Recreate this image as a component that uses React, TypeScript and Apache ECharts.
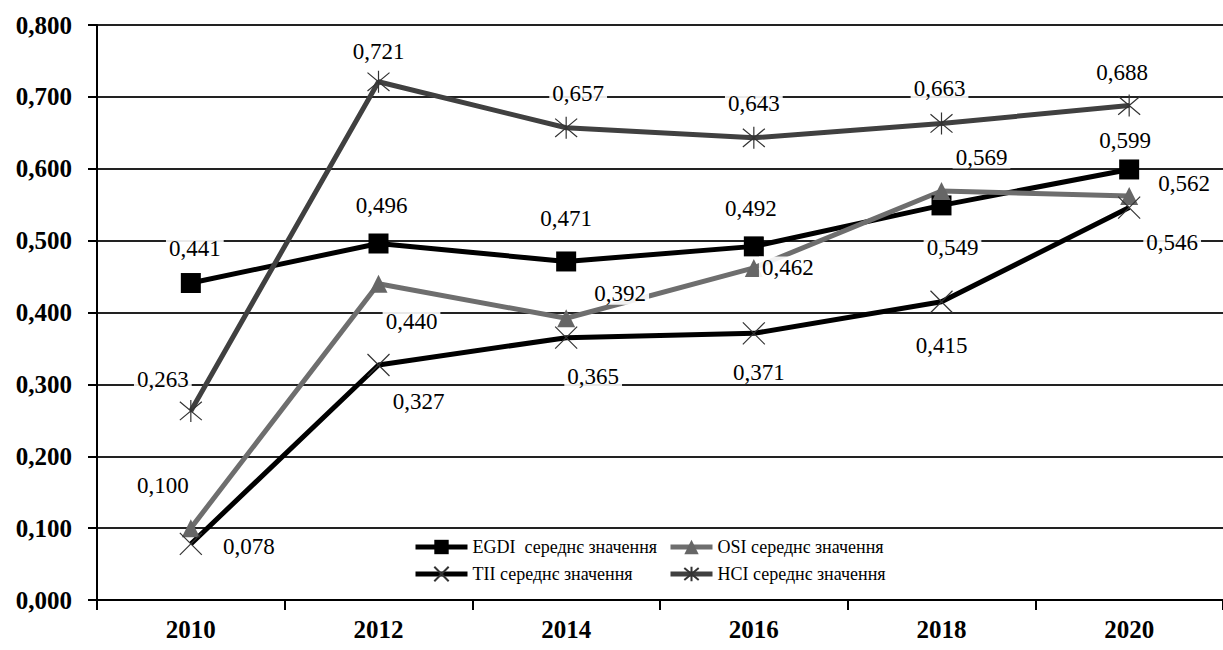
import React, { useEffect, useRef } from "react";
import * as echarts from "echarts";

const years = ["2010", "2012", "2014", "2016", "2018", "2020"];
const egdi = [0.441, 0.496, 0.471, 0.492, 0.549, 0.599];
const osi = [0.1, 0.44, 0.392, 0.462, 0.569, 0.562];
const tii = [0.078, 0.327, 0.365, 0.371, 0.415, 0.546];
const hci = [0.263, 0.721, 0.657, 0.643, 0.663, 0.688];
const seriesNames = [
  "EGDI  середнє значення",
  "OSI середнє значення",
  "TII середнє значення",
  "HCI середнє значення",
];

// label offsets (px) for each point
const egdiOff = [[4, -35], [3, -38], [0, -43], [-3, -38], [11, 42], [-4, -29]];
const osiOff = [[-28, -43], [33, 38], [54, -25], [34, 0], [40, -34], [55, -13]];
const tiiOff = [[58, 3], [40, 37], [27, 39], [5, 39], [0, 44], [43, 35]];
const hciOff = [[-28, -31], [0, -30], [12, -34], [0, -34], [-2, -35], [-7, -33]];

const FONT = "Liberation Serif";
const fmt = (v: number) => v.toFixed(3).replace(".", ",");

const CROSS = "path://M0,0L10,10M10,0L0,10";
const STAR = "path://M0,0L10,10M10,0L0,10M5,-1L5,11";

function mkData(vals: number[], offs: number[][]) {
  return vals.map((v, i) => ({ value: v, label: { offset: offs[i] } }));
}

const labelBase = {
  show: true,
  position: "inside",
  formatter: (p: any) => fmt(p.value),
  fontFamily: FONT,
  fontSize: 23,
  color: "#000",
  backgroundColor: "rgba(255,255,255,0.9)",
  padding: [0, 3],
};

const legendText = { fontFamily: FONT, fontSize: 18, color: "#000" };

export default function App() {
  const ref = useRef<HTMLDivElement>(null);
  useEffect(() => {
    if (!ref.current) return;
    const chart = echarts.init(ref.current, null, { renderer: "svg" });
    chart.setOption({
      animation: false,
      backgroundColor: "#fff",
      textStyle: { fontFamily: FONT },
      grid: { left: 97, right: -8, top: 25, bottom: 50, containLabel: false },
      xAxis: {
        type: "category",
        data: years,
        axisLine: { lineStyle: { color: "#000", width: 2 } },
        axisTick: { show: true, length: 10, lineStyle: { color: "#000", width: 2 } },
        axisLabel: {
          color: "#000",
          fontFamily: FONT,
          fontWeight: "bold",
          fontSize: 25,
          margin: 17,
        },
      },
      yAxis: {
        type: "value",
        min: 0,
        max: 0.8,
        interval: 0.1,
        axisLine: { show: true, lineStyle: { color: "#000", width: 2 } },
        axisTick: { show: true, length: 9, lineStyle: { color: "#000", width: 2 } },
        splitLine: { show: true, lineStyle: { color: "#222", width: 2 } },
        axisLabel: {
          color: "#000",
          fontFamily: FONT,
          fontWeight: "bold",
          fontSize: 25,
          margin: 25,
          formatter: (v: number) => fmt(v),
        },
      },
      graphic: [
        {
          type: "rect",
          z: 1,
          shape: { x: 410, y: 532, width: 715, height: 65 },
          style: { fill: "#fff" },
        },
      ],
      legend: [
        {
          data: [seriesNames[0], seriesNames[2]],
          orient: "vertical",
          left: 413,
          top: 538,
          itemWidth: 52,
          itemHeight: 18,
          itemGap: 9,
          padding: 0,
          lineStyle: { width: 5 },
          textStyle: legendText,
        },
        {
          data: [seriesNames[1], seriesNames[3]],
          orient: "vertical",
          left: 668,
          top: 538,
          itemWidth: 42,
          itemHeight: 18,
          itemGap: 9,
          padding: 0,
          lineStyle: { width: 5 },
          textStyle: legendText,
        },
      ],
      series: [
        {
          name: seriesNames[0],
          type: "line",
          data: mkData(egdi, egdiOff),
          symbol: "rect",
          symbolSize: 20,
          lineStyle: { color: "#000", width: 5 },
          itemStyle: { color: "#000" },
          label: labelBase,
          z: 3,
        },
        {
          name: seriesNames[1],
          type: "line",
          data: mkData(osi, osiOff),
          symbol: "triangle",
          symbolSize: 18,
          lineStyle: { color: "#6e6e6e", width: 5 },
          itemStyle: { color: "#666" },
          label: labelBase,
          z: 3,
        },
        {
          name: seriesNames[2],
          type: "line",
          data: mkData(tii, tiiOff),
          symbol: CROSS,
          symbolSize: 22,
          lineStyle: { color: "#000", width: 5 },
          itemStyle: { color: "#000", borderColor: "#333", borderWidth: 1.2 },
          label: labelBase,
          z: 3,
        },
        {
          name: seriesNames[3],
          type: "line",
          data: mkData(hci, hciOff),
          symbol: STAR,
          symbolSize: 22,
          lineStyle: { color: "#404040", width: 5 },
          itemStyle: { color: "#404040", borderColor: "#333", borderWidth: 1.2 },
          label: labelBase,
          z: 3,
        },
      ],
    });
    return () => chart.dispose();
  }, []);
  return (
    <div
      ref={ref}
      style={{ position: "fixed", left: 0, top: 0, width: 1223, height: 650 }}
    />
  );
}
